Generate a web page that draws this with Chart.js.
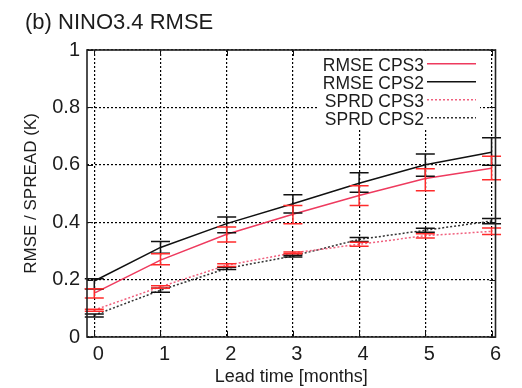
<!DOCTYPE html>
<html><head><meta charset="utf-8">
<script src="https://cdn.jsdelivr.net/npm/chart.js@4.4.1/dist/chart.umd.min.js"></script>
<style>html,body{margin:0;padding:0;background:#fff}canvas{display:block}</style>
</head><body>
<canvas id="c" width="522" height="388" style="width:522px;height:388px"></canvas>
<script>
// ---- data ----
const leadTimes = [0, 1, 2, 3, 4, 5, 6];
const rmseCPS3   = [0.153, 0.268, 0.358, 0.428, 0.493, 0.552, 0.588];
const rmseCPS3Lo = [0.136, 0.252, 0.331, 0.395, 0.458, 0.510, 0.548];
const rmseCPS3Hi = [0.168, 0.290, 0.383, 0.458, 0.527, 0.586, 0.630];
const rmseCPS2   = [0.195, 0.312, 0.395, 0.464, 0.536, 0.600, 0.644];
const rmseCPS2Lo = [0.167, 0.292, 0.363, 0.432, 0.504, 0.560, 0.598];
const rmseCPS2Hi = [0.203, 0.333, 0.418, 0.496, 0.572, 0.638, 0.694];
const sprdCPS3   = [0.094, 0.175, 0.250, 0.293, 0.323, 0.353, 0.368];
const sprdCPS3Lo = [0.090, 0.170, 0.246, 0.290, 0.316, 0.345, 0.357];
const sprdCPS3Hi = [0.097, 0.179, 0.255, 0.296, 0.330, 0.360, 0.380];
const sprdCPS2   = [0.076, 0.163, 0.239, 0.282, 0.340, 0.372, 0.404];
const sprdCPS2Lo = [0.070, 0.156, 0.235, 0.279, 0.333, 0.365, 0.395];
const sprdCPS2Hi = [0.080, 0.170, 0.243, 0.285, 0.347, 0.379, 0.413];
const xTicks = [0, 1, 2, 3, 4, 5, 6];
const yTicks = [0, 0.2, 0.4, 0.6, 0.8, 1];
const yTickLabels = ['0', '0.2', '0.4', '0.6', '0.8', '1'];
const seriesLabels = ['RMSE CPS3', 'RMSE CPS2', 'SPRD CPS3', 'SPRD CPS2'];
const chartTitle = '(b) NINO3.4 RMSE';
const xTitle = 'Lead time [months]';
const yTitle = 'RMSE / SPREAD (K)';

const FONT = '"Liberation Sans", Arial, Helvetica, sans-serif';
const TXT = '#1c1c1c';
const pts = arr => leadTimes.map((x, i) => ({x, y: arr[i]}));

const series = [
  {label: seriesLabels[0], data: rmseCPS3, lo: rmseCPS3Lo, hi: rmseCPS3Hi, line: '#ee3a5e', bar: '#ff2b2b', dash: []},
  {label: seriesLabels[1], data: rmseCPS2, lo: rmseCPS2Lo, hi: rmseCPS2Hi, line: '#111111', bar: '#111111', dash: []},
  {label: seriesLabels[2], data: sprdCPS3, lo: sprdCPS3Lo, hi: sprdCPS3Hi, line: '#f0607e', bar: '#ff2b2b', dash: [2, 2]},
  {label: seriesLabels[3], data: sprdCPS2, lo: sprdCPS2Lo, hi: sprdCPS2Hi, line: '#333333', bar: '#111111', dash: [2, 2]}
];

const decorPlugin = {
  id: 'decor',
  afterDatasetsDraw(chart) {
    const {ctx, scales: {x, y}} = chart;
    ctx.save();
    ctx.lineWidth = 1.5;
    [series[1], series[3], series[0], series[2]].forEach(s => {
      ctx.strokeStyle = s.bar;
      leadTimes.forEach((t, i) => {
        const px = x.getPixelForValue(t);
        const pl = y.getPixelForValue(s.lo[i]);
        const ph = y.getPixelForValue(s.hi[i]);
        ctx.beginPath();
        ctx.moveTo(px, pl); ctx.lineTo(px, ph);
        ctx.moveTo(px - 9.5, pl); ctx.lineTo(px + 9.5, pl);
        ctx.moveTo(px - 9.5, ph); ctx.lineTo(px + 9.5, ph);
        ctx.stroke();
      });
    });
    ctx.restore();
  },
  afterDraw(chart) {
    const {ctx, chartArea: a, scales: {x, y}} = chart;
    ctx.save();
    ctx.strokeStyle = '#111';
    ctx.lineWidth = 1;
    ctx.beginPath();
    xTicks.forEach(v => {
      const px = Math.round(x.getPixelForValue(v)) + 0.5;
      ctx.moveTo(px, a.bottom); ctx.lineTo(px, a.bottom - 6);
      ctx.moveTo(px, a.top); ctx.lineTo(px, a.top + 6);
    });
    yTicks.forEach(v => {
      const py = Math.round(y.getPixelForValue(v)) + 0.5;
      ctx.moveTo(a.left, py); ctx.lineTo(a.left + 6, py);
      ctx.moveTo(a.right, py); ctx.lineTo(a.right - 6, py);
    });
    ctx.stroke();
    ctx.lineWidth = 1.6;
    ctx.strokeStyle = '#222';
    ctx.strokeRect(a.left, a.top, a.width, a.height);

    // legend
    ctx.fillStyle = '#fff';
    ctx.fillRect(318, 51, 162, 77);
    ctx.font = '17.5px ' + FONT;
    ctx.textAlign = 'right';
    ctx.textBaseline = 'alphabetic';
    series.forEach((s, i) => {
      const base = 70.5 + i * 18;
      const mid = base - 6.8;
      ctx.fillStyle = TXT;
      ctx.fillText(s.label, 424, base);
      ctx.strokeStyle = s.line;
      ctx.lineWidth = 1.5;
      ctx.setLineDash(s.dash);
      ctx.beginPath();
      ctx.moveTo(427, mid); ctx.lineTo(476, mid);
      ctx.stroke();
      ctx.setLineDash([]);
    });

    // title
    ctx.font = '22px ' + FONT;
    ctx.fillStyle = TXT;
    ctx.textAlign = 'left';
    ctx.fillText(chartTitle, 25, 28.5);
    ctx.restore();
  }
};

new Chart(document.getElementById('c'), {
  type: 'line',
  data: {
    datasets: series.map(s => ({
      label: s.label,
      data: pts(s.data),
      borderColor: s.line,
      borderWidth: 1.5,
      borderDash: s.dash,
      pointRadius: 0,
      fill: false,
      tension: 0
    }))
  },
  options: {
    responsive: false,
    animation: false,
    devicePixelRatio: 1,
    layout: {padding: {top: 50, right: 26.5, bottom: 0, left: 0}},
    plugins: {legend: {display: false}, tooltip: {enabled: false}, title: {display: false}},
    scales: {
      x: {
        type: 'linear', min: -0.11, max: 6.06,
        afterBuildTicks: s => { s.ticks = xTicks.map(v => ({value: v})); },
        afterFit: s => { s.height = 51; },
        ticks: {font: {size: 20, family: FONT}, color: TXT, padding: 5, labelOffset: 4, maxRotation: 0, autoSkip: false,
                callback: v => String(v)},
        grid: {color: '#000', lineWidth: 1.2, drawTicks: false},
        border: {display: false, dash: [2, 2]},
        title: {display: true, text: xTitle, font: {size: 18, family: FONT}, color: TXT, padding: {top: 0, bottom: 0}}
      },
      y: {
        type: 'linear', min: 0, max: 1,
        afterBuildTicks: s => { s.ticks = yTicks.map(v => ({value: v})); },
        afterFit: s => { s.width = 87; },
        ticks: {font: {size: 20, family: FONT}, color: TXT, padding: 7, autoSkip: false,
                callback: (v) => { const i = yTicks.findIndex(t => Math.abs(t - v) < 1e-9); return i >= 0 ? yTickLabels[i] : ''; }},
        grid: {color: '#000', lineWidth: 1.2, drawTicks: false},
        border: {display: false, dash: [2, 2]},
        title: {display: true, text: yTitle, font: {size: 17, family: FONT}, color: TXT, padding: {top: 21, bottom: 0}}
      }
    }
  },
  plugins: [decorPlugin]
});
</script>
</body></html>
